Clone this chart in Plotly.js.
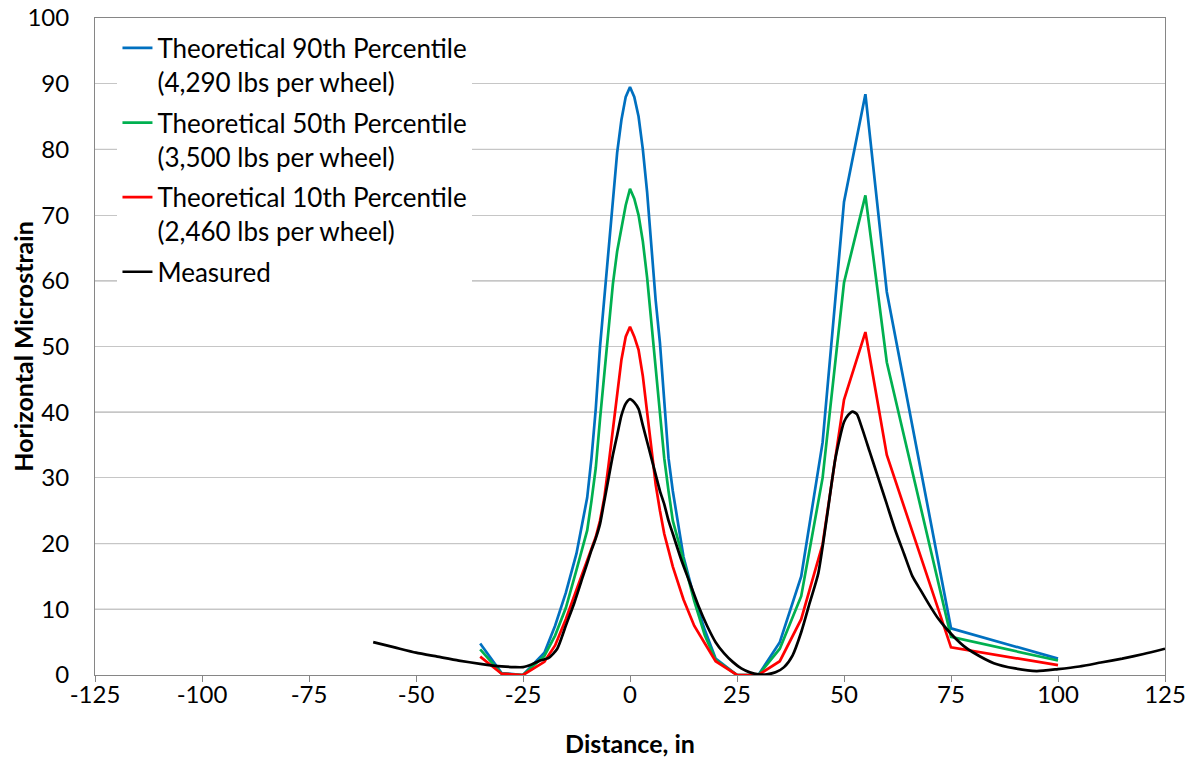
<!DOCTYPE html>
<html>
<head>
<meta charset="utf-8">
<script src="https://cdn.plot.ly/plotly-3.0.1.min.js"></script>
<style>html,body{margin:0;padding:0;background:#fff;}#chart{width:1199px;height:760px;}</style>
</head>
<body>
<div id="chart"></div>
<script>
// Theoretical series share one distance grid (in)
const theoryX = [-35,-30,-25,-20,-17.5,-15,-12.5,-10,-9,-8,-7,-6,-5,-4,-3,-2,-1,0,1,2,3,4,5,6,7,8,9,10,12.5,15,17.5,20,25,30,35,40,45,50,55,60,75,100];
const p90 = [4.8,0.3,0,3.4,7.5,12.5,18.5,27,33,40.5,50,57.5,64.5,72,79.5,84.5,88,89.5,88,85,80,73.5,65,57,50.5,41.5,33,28,18,11.8,6.8,2.5,0,0,5,15,35.4,72,88.4,58.3,7.1,2.5];
const p50 = [3.9,0.2,0,2.9,6,10.2,16,22,26.5,31.5,39,46,53,59.5,64.5,68,71.5,74,72.5,70,66,60.5,53.5,47,40.5,33,28,23.5,17.5,11.3,6,2.3,0,0,4,12,30,59.7,73,47.6,5.8,2.2];
const p10 = [2.8,0.2,0,2.0,4.5,8.5,13,17.5,19,21,23.5,27,32,37.5,42.5,48,51.5,53,51.5,49.5,45.5,40,34.5,29,25,21.5,19,16.5,11.5,7.5,4.8,2.1,0,0,2.1,8.5,19.9,41.9,52.2,33.5,4.2,1.5];
// Measured trace
const measX = [-60,-55,-50,-45,-40,-35,-30,-27,-25,-23,-21,-19,-17,-15,-13,-11,-10,-9,-8,-7,-6,-5,-4,-3,-2,-1,0,1,2,3,4,5,6,7,8,9,10,12,14,16,18,20,22,24,26,28,30,32,34,36,38,40,42,44,46,48,50,51,52,53,54,56,58,60,62,64,66,68,70,72,74,76,78,80,85,90,95,100,105,110,115,120,125];
const measY = [5,4.2,3.4,2.8,2.2,1.7,1.3,1.2,1.2,1.6,2.2,2.6,4.0,7.5,11,15,17,19,20.8,23,26.5,30,33.5,36.5,39.5,41.3,42,41.5,40.5,38,35.5,33,30.5,28,26,23.5,21.5,17.5,14,10.5,7.5,5,3.3,2,1,0.4,0.1,0.1,0.4,1.2,3,6.5,11,15.5,24,33,38.5,39.6,40.1,39.7,38,34,30,26,22,18.5,15,12.8,10.6,8.6,7,5.6,4.4,3.5,1.8,1,0.6,0.9,1.3,1.9,2.5,3.2,4];

const seriesNames = ["Theoretical 90th Percentile<br>(4,290 lbs per wheel)","Theoretical 50th Percentile<br>(3,500 lbs per wheel)","Theoretical 10th Percentile<br>(2,460 lbs per wheel)","Measured"];
const xTicks = [-125,-100,-75,-50,-25,0,25,50,75,100,125];
const yTicks = [0,10,20,30,40,50,60,70,80,90,100];
const darkGrid = [10,20,40,60,80];
const xTitle = "Distance, in";
const yTitle = "Horizontal Microstrain";

const FONT = "Lato, 'Open Sans', sans-serif";
const lw = 2.7;
const traces = [
  {x: theoryX, y: p90, name: seriesNames[0], mode:'lines', line:{color:'#0070C0', width:lw}, legendgroup:'a'},
  {x: theoryX, y: p50, name: seriesNames[1], mode:'lines', line:{color:'#00B050', width:lw}, legendgroup:'b'},
  {x: theoryX, y: p10, name: seriesNames[2], mode:'lines', line:{color:'#FF0000', width:lw}, legendgroup:'c'},
  {x: measX, y: measY, name: seriesNames[3], mode:'lines', line:{color:'#000000', width:lw, shape:'spline', smoothing:0.6}, legendgroup:'d'}
];

const shapes = darkGrid.map(v => ({type:'line', xref:'paper', x0:0, x1:1, yref:'y', y0:v, y1:v, line:{color:'#7a7a7a', width:1}, layer:'below'}));

const layout = {
  width:1199, height:760,
  margin:{l:95, r:34, t:18, b:85},
  paper_bgcolor:'#fff', plot_bgcolor:'#fff',
  font:{family:FONT, size:24, color:'#000'},
  showlegend:true,
  legend:{x:0.021, y:0.99, xanchor:'left', yanchor:'top', bgcolor:'#fff', borderwidth:0,
          font:{family:FONT, size:26, color:'#000'}, tracegroupgap:4, valign:'top', itemwidth:30},
  xaxis:{range:[-125,125], tickvals:xTicks, ticktext:xTicks.map(String), showgrid:false, zeroline:false,
         showline:true, linecolor:'#868686', linewidth:1, mirror:true,
         ticks:'outside', ticklen:6, tickcolor:'#868686', ticklabelstandoff:-8,
         tickfont:{family:FONT, size:24, color:'#000'},
         title:{text:'<b>' + xTitle + '</b>', font:{family:FONT, size:25, color:'#000'}, standoff:28}},
  yaxis:{range:[0,100], tickvals:yTicks, ticktext:yTicks.map(String), showgrid:true, gridcolor:'#c6c6c6', gridwidth:1,
         zeroline:false, showline:true, linecolor:'#868686', linewidth:1, mirror:true, ticks:'',
         ticklabelstandoff:20,
         tickfont:{family:FONT, size:24, color:'#000'}},
  annotations:[{text:'<b>' + yTitle + '</b>', xref:'paper', yref:'paper', x:-0.068, y:0.5, xanchor:'center', yanchor:'middle',
                textangle:-90, showarrow:false, font:{family:FONT, size:25, color:'#000'}}],
  shapes: shapes
};

Plotly.newPlot('chart', traces, layout, {displayModeBar:false, staticPlot:true});
</script>
</body>
</html>
